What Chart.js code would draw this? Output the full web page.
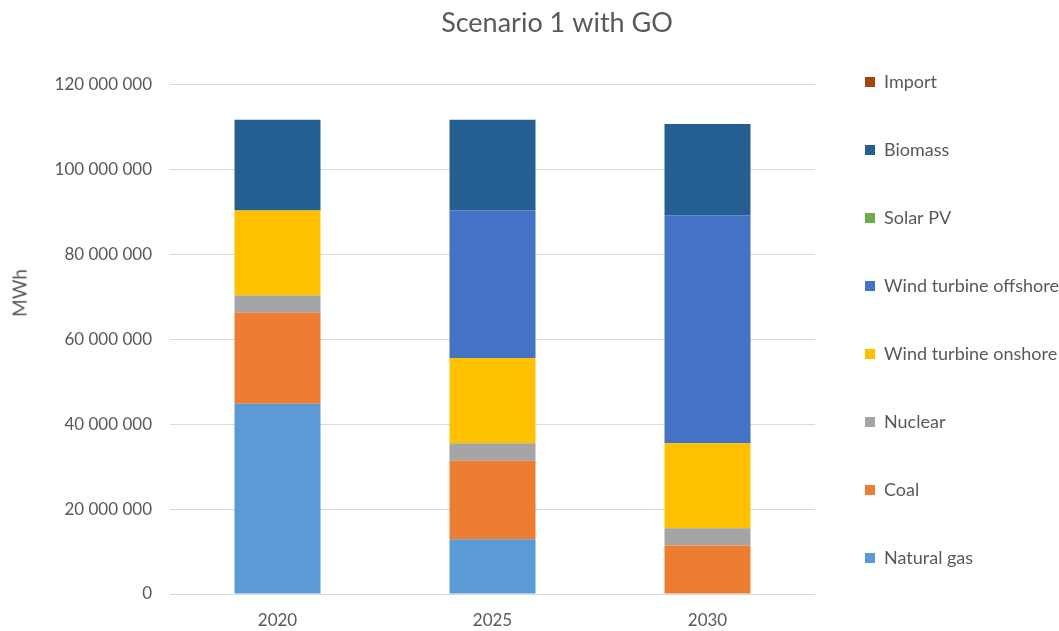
<!DOCTYPE html>
<html lang="en">
<head>
  <meta charset="UTF-8">
  <title>Scenario 1 with GO</title>
  <script src="https://cdn.jsdelivr.net/npm/chart.js"></script>
  <style>
    body {
      margin: 0;
      padding: 0;
      background: #fff;
      font-family: Lato, sans-serif;
    }
    .chart-container {
      position: relative;
      width: 1059px;
      height: 631px;
    }
    .axis-title {
      position: absolute;
      left: 19px;
      top: 293px;
      transform: translate(-50%, -50%) rotate(-90deg);
      font-size: 19px;
      color: #595959;
      white-space: nowrap;
    }
  </style>
</head>
<body>

  <div class="chart-container">
    <canvas id="energyChart"></canvas>
    <div class="axis-title">MWh</div>
  </div>

  <script>
    // Electricity production per source, MWh
    const years = ['2020', '2025', '2030'];
    const naturalGas = [44800000, 12900000, 0];
    const coal = [21400000, 18500000, 11400000];
    const nuclear = [4100000, 4100000, 4100000];
    const windOnshore = [20000000, 20100000, 20000000];
    const windOffshore = [0, 34700000, 53700000];
    const solarPV = [0, 0, 0];
    const biomass = [21400000, 21400000, 21500000];
    const imports = [0, 0, 0];

    const yTicks = [0, 20000000, 40000000, 60000000, 80000000, 100000000, 120000000];

    const series = [
      { label: 'Natural gas', data: naturalGas, color: '#5B9BD5' },
      { label: 'Coal', data: coal, color: '#ED7D31' },
      { label: 'Nuclear', data: nuclear, color: '#A5A5A5' },
      { label: 'Wind turbine onshore', data: windOnshore, color: '#FFC000' },
      { label: 'Wind turbine offshore', data: windOffshore, color: '#4472C4' },
      { label: 'Solar PV', data: solarPV, color: '#70AD47' },
      { label: 'Biomass', data: biomass, color: '#255E91' },
      { label: 'Import', data: imports, color: '#9E480E' }
    ];

    // "120 000 000" style grouping
    function groupDigits(v) {
      return String(v).replace(/\B(?=(\d{3})+(?!\d))/g, ' ');
    }

    const textColor = '#595959';
    const gridColor = '#D9D9D9';

    const ctx = document.getElementById('energyChart').getContext('2d');
    const energyChart = new Chart(ctx, {
      type: 'bar',
      data: {
        labels: years,
        datasets: series.map(s => ({
          label: s.label,
          data: s.data,
          backgroundColor: s.color,
          borderWidth: 0,
          categoryPercentage: 0.4,
          barPercentage: 1.0
        }))
      },
      options: {
        responsive: true,
        maintainAspectRatio: false,
        animation: false,
        layout: {
          padding: { left: 55, top: 9, right: 0, bottom: 0 }
        },
        plugins: {
          title: {
            display: true,
            text: 'Scenario 1 with GO',
            color: textColor,
            font: { family: 'Lato', size: 27, weight: 'normal' },
            padding: { top: -2, bottom: 45 }
          },
          legend: {
            position: 'right',
            reverse: true,
            maxWidth: 244,
            labels: {
              color: textColor,
              font: { family: 'Lato', size: 18 },
              boxWidth: 10,
              boxHeight: 10,
              padding: 50
            }
          },
          tooltip: { enabled: false }
        },
        scales: {
          x: {
            stacked: true,
            grid: { display: false, drawTicks: false },
            border: { display: false },
            ticks: {
              color: textColor,
              font: { family: 'Lato', size: 17 },
              padding: 16
            },
            afterFit: axis => { axis.height = 37; }
          },
          y: {
            stacked: true,
            min: yTicks[0],
            max: yTicks[yTicks.length - 1],
            afterBuildTicks: axis => {
              axis.ticks = yTicks.map(v => ({ value: v }));
            },
            grid: { color: gridColor, lineWidth: 1, drawTicks: false },
            border: { display: false },
            ticks: {
              color: textColor,
              font: { family: 'Lato', size: 17 },
              padding: 18,
              callback: v => groupDigits(v)
            },
            afterFit: axis => { axis.width = 115; }
          }
        }
      }
    });
  </script>
</body>
</html>
